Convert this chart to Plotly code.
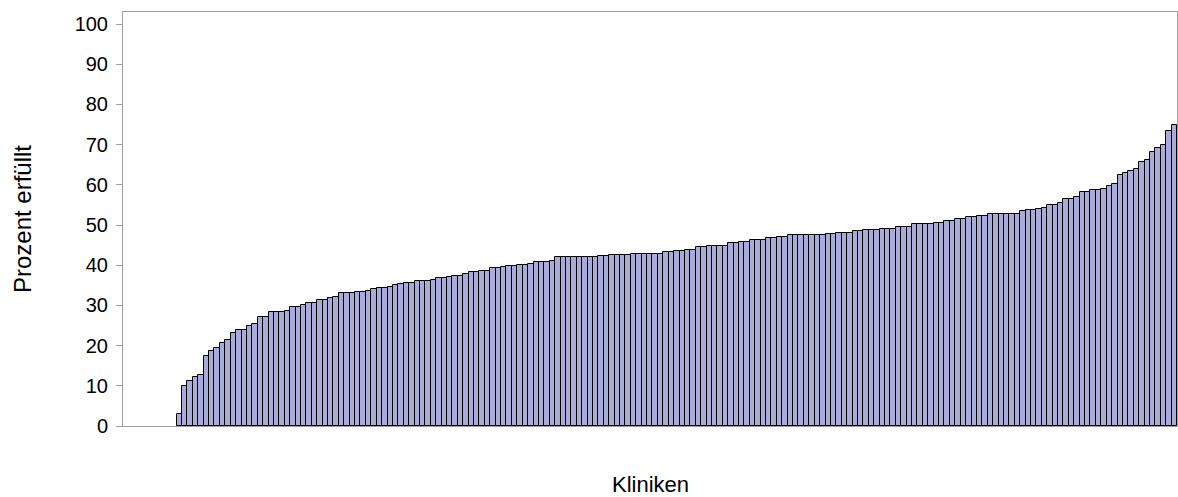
import plotly.graph_objects as go

clinics = list(range(1, 186))
values = [
    3.0, 10.0, 11.3, 12.1, 12.8, 17.5, 18.6, 19.4, 20.7, 21.4, 23.2, 23.9, 23.9, 24.8, 25.4, 27.0, 27.0, 28.3,
    28.3, 28.3, 28.7, 29.7, 29.7, 30.0, 30.5, 30.5, 31.4, 31.4, 31.8, 32.1, 33.0, 33.0, 33.0, 33.4, 33.4, 33.7,
    34.0, 34.4, 34.4, 34.7, 35.1, 35.4, 35.7, 35.7, 36.0, 36.0, 36.0, 36.3, 36.7, 36.7, 37.0, 37.3, 37.3, 37.9,
    38.2, 38.2, 38.6, 38.6, 39.2, 39.2, 39.6, 39.9, 39.9, 40.1, 40.1, 40.4, 40.8, 40.8, 40.8, 41.1, 42.0, 42.0, 42.0,
    42.0, 42.0, 42.0, 42.0, 42.0, 42.3, 42.3, 42.5, 42.5, 42.5, 42.5, 42.9, 42.9, 42.9, 42.9, 42.9, 42.9, 43.2,
    43.2, 43.6, 43.6, 43.9, 43.9, 44.5, 44.5, 44.8, 44.8, 44.8, 44.8, 45.5, 45.5, 45.8, 45.8, 46.2, 46.4, 46.4, 46.7,
    46.7, 47.1, 47.1, 47.4, 47.4, 47.4, 47.4, 47.4, 47.4, 47.4, 47.7, 47.7, 48.1, 48.1, 48.1, 48.5, 48.5, 48.7,
    48.7, 48.7, 49.1, 49.1, 49.1, 49.6, 49.6, 49.6, 50.2, 50.2, 50.2, 50.2, 50.6, 50.6, 50.9, 50.9, 51.4, 51.4,
    51.9, 51.9,
    52.2, 52.2, 52.7, 52.7, 52.7, 52.7, 52.7, 52.7, 53.4, 53.7, 53.7, 54.0, 54.3, 54.9, 54.9, 55.6, 56.6, 56.6,
    56.9, 58.1, 58.1, 58.7, 58.7, 59.0, 59.7, 60.1, 62.4, 63.0, 63.4, 64.0, 65.6, 66.3, 68.2, 69.2, 69.9, 73.4, 74.8,
]
y_ticks = list(range(0, 101, 10))
x_title = "Kliniken"
y_title = "Prozent erfüllt"

font_family = "Liberation Sans, Arial, sans-serif"

fig = go.Figure(
    go.Bar(
        x=clinics,
        y=values,
        marker=dict(color="#ABABDA", line=dict(color="#000000", width=1)),
        hoverinfo="x+y",
    )
)

fig.update_layout(
    width=1178,
    height=497,
    margin=dict(l=123, r=1, t=12, b=71),
    paper_bgcolor="white",
    plot_bgcolor="white",
    bargap=0,
    showlegend=False,
    font=dict(family=font_family, color="#000000"),
    annotations=[
        dict(text=x_title, xref="paper", yref="paper", x=0.5, y=-0.142, xanchor="center",
             yanchor="middle", showarrow=False, font=dict(size=22, family=font_family)),
        dict(text=y_title, xref="paper", yref="paper", x=-0.0958, y=0.5, xanchor="center",
             yanchor="middle", textangle=-90, showarrow=False, font=dict(size=24, family=font_family)),
    ],
)

fig.update_xaxes(
    range=[clinics[0] - 10.42, clinics[-1] + 0.5],
    showticklabels=False,
    ticks="",
    showgrid=False,
    zeroline=False,
    showline=True,
    linecolor="#A0A0A0",
    linewidth=1,
    mirror=True,
)
fig.update_yaxes(
    range=[0, 103],
    tickvals=y_ticks,
    ticks="outside",
    ticklen=6,
    tickcolor="#A0A0A0",
    tickfont=dict(size=20, family=font_family),
    ticklabelstandoff=4,
    showgrid=False,
    zeroline=False,
    showline=True,
    linecolor="#A0A0A0",
    linewidth=1,
    mirror=True,
)

fig.write_html(
    "out.html",
    config={"displayModeBar": False},
    post_script="document.body.style.margin='0';document.body.style.overflow='hidden';",
)
